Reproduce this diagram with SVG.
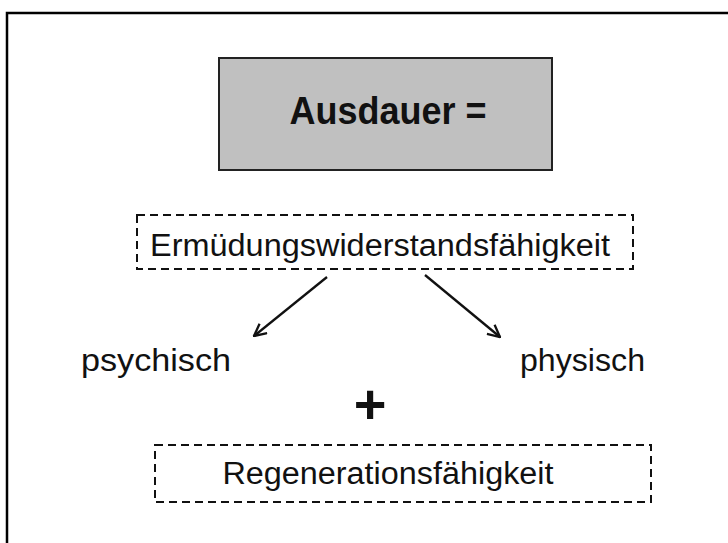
<svg xmlns="http://www.w3.org/2000/svg" width="728" height="543" viewBox="0 0 728 543">
<defs>
<style>
.t{font-family:"Liberation Sans",Arial,sans-serif;fill:#111;}
.dash{fill:none;stroke:#111;stroke-width:2;stroke-dasharray:8 5;}
.conn{stroke:#111;stroke-width:2.3;fill:none;}
</style>
<marker id="arr" viewBox="0 0 14 14" refX="13" refY="7" markerWidth="14" markerHeight="14" markerUnits="userSpaceOnUse" orient="auto">
<path d="M1,1 L13,7 L1,13" fill="none" stroke="#111" stroke-width="2.3"/>
</marker>
</defs>
<rect width="728" height="543" fill="#fff"/>
<rect x="7" y="13" width="740" height="560" fill="none" stroke="#000" stroke-width="2.5"/>
<g id="ausdauer">
<rect x="219" y="58" width="333" height="112" fill="#c0c0c0" stroke="#222" stroke-width="2"/>
<text class="t" x="388" y="124" font-size="38" font-weight="bold" text-anchor="middle" textLength="197" lengthAdjust="spacingAndGlyphs">Ausdauer =</text>
</g>
<g id="ermuedung">
<rect class="dash" x="137" y="215" width="496" height="54"/>
<text class="t" x="380" y="256" font-size="31" text-anchor="middle" textLength="460" lengthAdjust="spacingAndGlyphs">Ermüdungswiderstandsfähigkeit</text>
</g>
<g id="psychisch">
<text class="t" x="81" y="371" font-size="31" textLength="150" lengthAdjust="spacingAndGlyphs">psychisch</text>
</g>
<g id="physisch">
<text class="t" x="520" y="371" font-size="31" textLength="125" lengthAdjust="spacingAndGlyphs">physisch</text>
</g>
<g id="plus">
<text class="t" x="370" y="423" font-size="56" font-weight="bold" text-anchor="middle">+</text>
</g>
<g id="regeneration">
<rect class="dash" x="155" y="445" width="496" height="57"/>
<text class="t" x="388" y="484" font-size="31" text-anchor="middle" textLength="331" lengthAdjust="spacingAndGlyphs">Regenerationsfähigkeit</text>
</g>
<g id="connectors">
<line class="conn" x1="327" y1="277" x2="254" y2="336" marker-end="url(#arr)"/>
<line class="conn" x1="425" y1="275" x2="500" y2="337" marker-end="url(#arr)"/>
</g>
</svg>
